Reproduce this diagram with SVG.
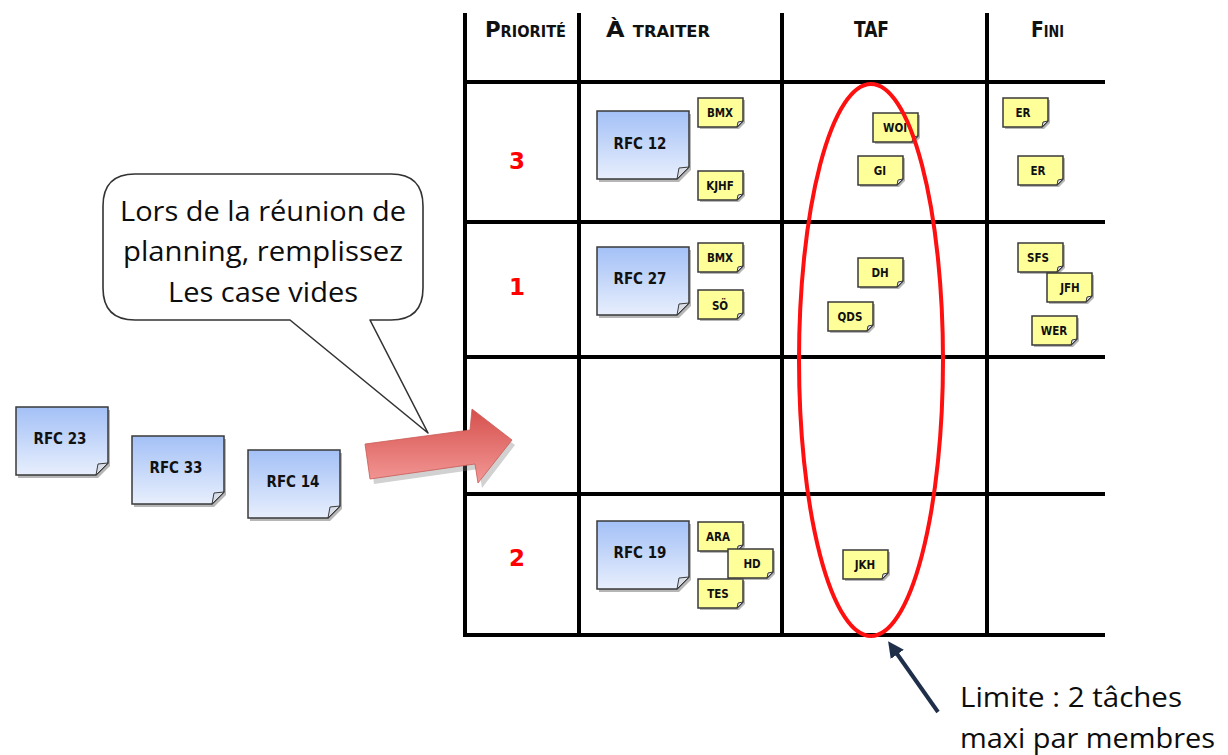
<svg xmlns="http://www.w3.org/2000/svg" width="1228" height="755" viewBox="0 0 1228 755">
  <defs>
    <style>
      .grid { stroke: #000; stroke-width: 4; stroke-linecap: square; fill: none; }
      .hand { font-family: "DejaVu Sans Condensed", "DejaVu Sans", sans-serif; font-weight: bold; fill: #111; }
      .head { font-size: 22px; font-variant: small-caps; }
      .prio { font-family: "DejaVu Sans", sans-serif; font-weight: bold; font-size: 23px; fill: #ff0000; text-anchor: middle; }
      .big-t { font-size: 15px; text-anchor: middle; }
      .small-t { font-size: 11.5px; text-anchor: middle; }
      .note-edge { stroke: #3a3a3a; stroke-width: 1.5; }
      .shadow { fill: #7a7a7a; opacity: 0.55; }
      .fold { fill: #d8dde8; stroke: #3a3a3a; stroke-width: 1; }
      .body { font-family: "Open Sans", "Noto Sans", sans-serif; fill: #0d0d0d; text-anchor: middle; }
      .body-l { font-family: "Open Sans", "Noto Sans", sans-serif; fill: #0d0d0d; text-anchor: start; }
    </style>
    <linearGradient id="blueFill" x1="0" y1="0" x2="0" y2="1">
      <stop offset="0" stop-color="#a3c0f6"/>
      <stop offset="1" stop-color="#e8effd"/>
    </linearGradient>
    <linearGradient id="redFill" x1="0" y1="0" x2="0" y2="1">
      <stop offset="0" stop-color="#d6504c"/>
      <stop offset="1" stop-color="#f29896"/>
    </linearGradient>
    <!-- large request card, 92 x 68 with a turned-up corner -->
    <path id="bigShape" d="M0,0 H92 V56 L80,68 H0 Z"/>
    <path id="bigFold" d="M92,56 L80,68 L82,57 Z"/>
    <!-- small task sticker, 45 x 29 -->
    <path id="smallShape" d="M0,0 H45 V23 L39,29 H0 Z"/>
    <path id="smallFold" d="M45,23 L39,29 L40,24 Z"/>
    <marker id="navyHead" markerWidth="5" markerHeight="5" refX="1" refY="2" orient="auto" markerUnits="strokeWidth">
      <path d="M0,0 L4,2 L0,4 Z" fill="#1f2f4a"/>
    </marker>
  </defs>

  <rect width="1228" height="755" fill="#fff"/>

  <!-- board grid -->
  <g id="board">
    <line class="grid" x1="465" y1="15" x2="465" y2="635"/>
    <line class="grid" x1="579" y1="15" x2="579" y2="635"/>
    <line class="grid" x1="782" y1="15" x2="782" y2="635"/>
    <line class="grid" x1="987" y1="15" x2="987" y2="635"/>
    <line class="grid" x1="465" y1="82" x2="1103" y2="82"/>
    <line class="grid" x1="465" y1="222" x2="1103" y2="222"/>
    <line class="grid" x1="465" y1="357" x2="1103" y2="357"/>
    <line class="grid" x1="465" y1="494" x2="1103" y2="494"/>
    <line class="grid" x1="465" y1="635" x2="1103" y2="635"/>
  </g>

  <!-- column headers -->
  <g id="headers" class="hand head">
    <text x="485" y="37" textLength="81" lengthAdjust="spacingAndGlyphs">Priorité</text>
    <text x="606" y="37" textLength="104" lengthAdjust="spacingAndGlyphs">À traiter</text>
    <text x="854" y="37" textLength="35" lengthAdjust="spacingAndGlyphs">TAF</text>
    <text x="1031" y="37" textLength="33" lengthAdjust="spacingAndGlyphs">Fini</text>
  </g>

  <!-- priorities -->
  <g id="priorities">
    <text class="prio" x="517" y="169">3</text>
    <text class="prio" x="517" y="295">1</text>
    <text class="prio" x="517" y="566">2</text>
  </g>

  <!-- request cards -->
  <g id="rfc12" transform="translate(597,111)">
    <use href="#bigShape" class="shadow" transform="translate(2,3)"/>
    <use href="#bigShape" fill="url(#blueFill)" class="note-edge"/>
    <use href="#bigFold" class="fold"/>
    <text class="hand big-t" x="43" y="38">RFC 12</text>
  </g>
  <g id="rfc27" transform="translate(597,247)">
    <use href="#bigShape" class="shadow" transform="translate(2,3)"/>
    <use href="#bigShape" fill="url(#blueFill)" class="note-edge"/>
    <use href="#bigFold" class="fold"/>
    <text class="hand big-t" x="43" y="37">RFC 27</text>
  </g>
  <g id="rfc19" transform="translate(597,521)">
    <use href="#bigShape" class="shadow" transform="translate(2,3)"/>
    <use href="#bigShape" fill="url(#blueFill)" class="note-edge"/>
    <use href="#bigFold" class="fold"/>
    <text class="hand big-t" x="43" y="37">RFC 19</text>
  </g>
  <g id="rfc23" transform="translate(16,407)">
    <use href="#bigShape" class="shadow" transform="translate(2,3)"/>
    <use href="#bigShape" fill="url(#blueFill)" class="note-edge"/>
    <use href="#bigFold" class="fold"/>
    <text class="hand big-t" x="44" y="37">RFC 23</text>
  </g>
  <g id="rfc33" transform="translate(132,436)">
    <use href="#bigShape" class="shadow" transform="translate(2,3)"/>
    <use href="#bigShape" fill="url(#blueFill)" class="note-edge"/>
    <use href="#bigFold" class="fold"/>
    <text class="hand big-t" x="44" y="37">RFC 33</text>
  </g>
  <g id="rfc14" transform="translate(248,450)">
    <use href="#bigShape" class="shadow" transform="translate(2,3)"/>
    <use href="#bigShape" fill="url(#blueFill)" class="note-edge"/>
    <use href="#bigFold" class="fold"/>
    <text class="hand big-t" x="45" y="37">RFC 14</text>
  </g>

  <!-- task stickers: to do -->
  <g id="t-bmx-1" transform="translate(698,98)">
    <use href="#smallShape" class="shadow" transform="translate(2,2)"/>
    <use href="#smallShape" fill="#ffff99" class="note-edge"/>
    <use href="#smallFold" class="fold"/>
    <text class="hand small-t" x="22" y="19">BMX</text>
  </g>
  <g id="t-kjhf" transform="translate(698,171)">
    <use href="#smallShape" class="shadow" transform="translate(2,2)"/>
    <use href="#smallShape" fill="#ffff99" class="note-edge"/>
    <use href="#smallFold" class="fold"/>
    <text class="hand small-t" x="22" y="19">KJHF</text>
  </g>
  <g id="t-bmx-2" transform="translate(698,243)">
    <use href="#smallShape" class="shadow" transform="translate(2,2)"/>
    <use href="#smallShape" fill="#ffff99" class="note-edge"/>
    <use href="#smallFold" class="fold"/>
    <text class="hand small-t" x="22" y="19">BMX</text>
  </g>
  <g id="t-so" transform="translate(698,290)">
    <use href="#smallShape" class="shadow" transform="translate(2,2)"/>
    <use href="#smallShape" fill="#ffff99" class="note-edge"/>
    <use href="#smallFold" class="fold"/>
    <text class="hand small-t" x="22" y="20">SÖ</text>
  </g>
  <g id="t-ara" transform="translate(698,522)">
    <use href="#smallShape" class="shadow" transform="translate(2,2)"/>
    <use href="#smallShape" fill="#ffff99" class="note-edge"/>
    <use href="#smallFold" class="fold"/>
    <text class="hand small-t" x="20" y="19">ARA</text>
  </g>
  <g id="t-tes" transform="translate(698,579)">
    <use href="#smallShape" class="shadow" transform="translate(2,2)"/>
    <use href="#smallShape" fill="#ffff99" class="note-edge"/>
    <use href="#smallFold" class="fold"/>
    <text class="hand small-t" x="20" y="19">TES</text>
  </g>
  <g id="t-hd" transform="translate(728,549)">
    <use href="#smallShape" class="shadow" transform="translate(2,2)"/>
    <use href="#smallShape" fill="#ffff99" class="note-edge"/>
    <use href="#smallFold" class="fold"/>
    <text class="hand small-t" x="24" y="19">HD</text>
  </g>

  <!-- task stickers: in progress -->
  <g id="t-woi" transform="translate(873,113)">
    <use href="#smallShape" class="shadow" transform="translate(2,2)"/>
    <use href="#smallShape" fill="#ffff99" class="note-edge"/>
    <use href="#smallFold" class="fold"/>
    <text class="hand small-t" x="22" y="19">WOI</text>
  </g>
  <g id="t-gi" transform="translate(858,156)">
    <use href="#smallShape" class="shadow" transform="translate(2,2)"/>
    <use href="#smallShape" fill="#ffff99" class="note-edge"/>
    <use href="#smallFold" class="fold"/>
    <text class="hand small-t" x="22" y="19">GI</text>
  </g>
  <g id="t-dh" transform="translate(858,258)">
    <use href="#smallShape" class="shadow" transform="translate(2,2)"/>
    <use href="#smallShape" fill="#ffff99" class="note-edge"/>
    <use href="#smallFold" class="fold"/>
    <text class="hand small-t" x="22" y="19">DH</text>
  </g>
  <g id="t-qds" transform="translate(828,302)">
    <use href="#smallShape" class="shadow" transform="translate(2,2)"/>
    <use href="#smallShape" fill="#ffff99" class="note-edge"/>
    <use href="#smallFold" class="fold"/>
    <text class="hand small-t" x="22" y="19">QDS</text>
  </g>
  <g id="t-jkh" transform="translate(843,550)">
    <use href="#smallShape" class="shadow" transform="translate(2,2)"/>
    <use href="#smallShape" fill="#ffff99" class="note-edge"/>
    <use href="#smallFold" class="fold"/>
    <text class="hand small-t" x="22" y="19">JKH</text>
  </g>

  <!-- task stickers: done -->
  <g id="t-er-1" transform="translate(1003,98)">
    <use href="#smallShape" class="shadow" transform="translate(2,2)"/>
    <use href="#smallShape" fill="#ffff99" class="note-edge"/>
    <use href="#smallFold" class="fold"/>
    <text class="hand small-t" x="20" y="19">ER</text>
  </g>
  <g id="t-er-2" transform="translate(1018,156)">
    <use href="#smallShape" class="shadow" transform="translate(2,2)"/>
    <use href="#smallShape" fill="#ffff99" class="note-edge"/>
    <use href="#smallFold" class="fold"/>
    <text class="hand small-t" x="20" y="19">ER</text>
  </g>
  <g id="t-sfs" transform="translate(1018,243)">
    <use href="#smallShape" class="shadow" transform="translate(2,2)"/>
    <use href="#smallShape" fill="#ffff99" class="note-edge"/>
    <use href="#smallFold" class="fold"/>
    <text class="hand small-t" x="20" y="19">SFS</text>
  </g>
  <g id="t-jfh" transform="translate(1047,273)">
    <use href="#smallShape" class="shadow" transform="translate(2,2)"/>
    <use href="#smallShape" fill="#ffff99" class="note-edge"/>
    <use href="#smallFold" class="fold"/>
    <text class="hand small-t" x="23" y="19">JFH</text>
  </g>
  <g id="t-wer" transform="translate(1032,316)">
    <use href="#smallShape" class="shadow" transform="translate(2,2)"/>
    <use href="#smallShape" fill="#ffff99" class="note-edge"/>
    <use href="#smallFold" class="fold"/>
    <text class="hand small-t" x="22" y="19">WER</text>
  </g>

  <!-- work-in-progress limit ring -->
  <g id="wip-ring">
    <ellipse cx="871" cy="360" rx="72" ry="276" fill="none" stroke="#ff1010" stroke-width="4"/>
  </g>

  <!-- speech bubble -->
  <g id="bubble">
    <path d="M135,174 H391 Q423,174 423,206 V288 Q423,320 391,320 H370 L428,433 L290,320 H135 Q103,320 103,288 V206 Q103,174 135,174 Z" fill="#fff" stroke="#333" stroke-width="1.6" stroke-linejoin="round"/>
    <text class="body" x="263" y="221" font-size="28" textLength="286" lengthAdjust="spacingAndGlyphs">Lors de la réunion de</text>
    <text class="body" x="263" y="261" font-size="28" textLength="280" lengthAdjust="spacingAndGlyphs">planning, remplissez</text>
    <text class="body" x="263" y="302" font-size="28" textLength="190" lengthAdjust="spacingAndGlyphs">Les case vides</text>
  </g>

  <!-- limit note -->
  <g id="limit-note">
    <text class="body-l" x="960" y="707" font-size="28" textLength="222" lengthAdjust="spacingAndGlyphs">Limite : 2 tâches</text>
    <text class="body-l" x="960" y="748" font-size="28" textLength="255" lengthAdjust="spacingAndGlyphs">maxi par membres</text>
  </g>

  <!-- connectors -->
  <g id="connectors">
    <polygon points="367,446 470,432 472,411 513,442 480,485 477,466 372,481" fill="#7a7a7a" opacity="0.35" transform="translate(2,3)"/>
    <polygon points="365,444 470,430 472,409 512,440 478,483 475,464 370,479" fill="url(#redFill)" stroke="#c85a56" stroke-width="0.8"/>
    <line x1="938" y1="712" x2="895" y2="651" stroke="#1f2f4a" stroke-width="4" marker-end="url(#navyHead)"/>
  </g>
</svg>
